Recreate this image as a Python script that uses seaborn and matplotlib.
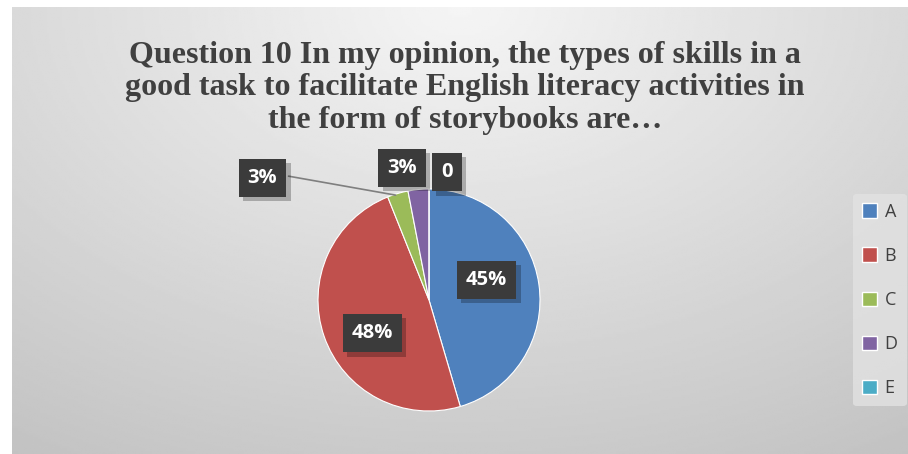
import numpy as np
import matplotlib
matplotlib.use("Agg")
import matplotlib.pyplot as plt
import matplotlib.patheffects as pe
import seaborn as sns

# Data (answers A..E)
categories = ["A", "B", "C", "D", "E"]
counts = [15, 16, 1, 1, 0]
slice_labels = ["45%", "48%", "3%", "3%", "0"]
colors = ["#4F81BD", "#C0504D", "#9BBB59", "#8064A2", "#4BACC6"]
title = ("Question 10 In my opinion, the types of skills in a\n"
         "good task to facilitate English literacy activities in\n"
         "the form of storybooks are\u2026")

sns.set_theme(style="white")
plt.rcParams["font.family"] = ["Open Sans", "DejaVu Sans"]

fig = plt.figure(figsize=(9.08, 4.54), dpi=100)
fig.patch.set_facecolor("white")

# chart area with gray radial gradient
bg = fig.add_axes([12 / 908, 0, 1 - 12 / 908, 1 - 7 / 454])
yy, xx = np.mgrid[0:1:200j, 0:1:400j]
d = np.sqrt(((xx - 0.5) * 1.3) ** 2 + (yy * 1.0) ** 2)
shade = 0.96 - 0.20 * np.clip(d, 0, 1.2) / 1.2
bg.imshow(shade, cmap="gray", vmin=0, vmax=1, aspect="auto",
          extent=[0, 1, 0, 1], origin="upper")
bg.set_axis_off()

# title
fig.text(465 / 908, 1 - 88 / 454, title, ha="center", va="center",
         fontsize=23, fontweight="bold", color="#404040",
         family="Liberation Serif", linespacing=1.18)

# pie
r_px = 111
cx, cy = 429, 300
ax = fig.add_axes([(cx - r_px) / 908, 1 - (cy + r_px) / 454,
                   2 * r_px / 908, 2 * r_px / 454])
wedges, _ = ax.pie(counts, colors=colors, startangle=90, counterclock=False,
                   wedgeprops=dict(linewidth=0.8, edgecolor="white"))
ax.set_xlim(-1, 1)
ax.set_ylim(-1, 1)
ax.set_aspect("equal")
ax.set_clip_on(False)

box = dict(boxstyle="square,pad=0.45", facecolor="#3b3b3b", edgecolor="none")
shadow = [pe.withSimplePatchShadow(offset=(3, -3), shadow_rgbFace="black", alpha=0.25)]

# label placement relative to the pie (radius units)
label_pos = [(0.52, 0.18), (-0.51, -0.30), (-1.50, 1.10), (-0.24, 1.19), (0.16, 1.15)]
for lab, (lx, ly) in zip(slice_labels, label_pos):
    t = ax.text(lx, ly, lab, ha="center", va="center", fontsize=14.5,
                fontweight="bold", color="white", bbox=box, zorder=5)
    t.get_bbox_patch().set_path_effects(shadow)

# leader line for C
w = wedges[2]
mid = np.deg2rad((w.theta1 + w.theta2) / 2)
ax.annotate("", xy=(0.98 * np.cos(mid), 0.98 * np.sin(mid)),
            xytext=(-1.29, 1.12),
            arrowprops=dict(arrowstyle="-", color="#7f7f7f", lw=1.2))

# legend
handles = [plt.Rectangle((0, 0), 1, 1, facecolor=c) for c in colors]
leg = fig.legend(handles, categories, loc="center left",
                 bbox_to_anchor=(844 / 908, 1 - 300 / 454), frameon=True,
                 fontsize=13, labelspacing=1.45, handlelength=0.85,
                 handleheight=0.85, handletextpad=0.4, borderpad=0.5)
leg.get_frame().set_facecolor("#e2e2e2")
leg.get_frame().set_edgecolor("none")
for txt in leg.get_texts():
    txt.set_color("#404040")

fig.savefig("out.png", dpi=100)
